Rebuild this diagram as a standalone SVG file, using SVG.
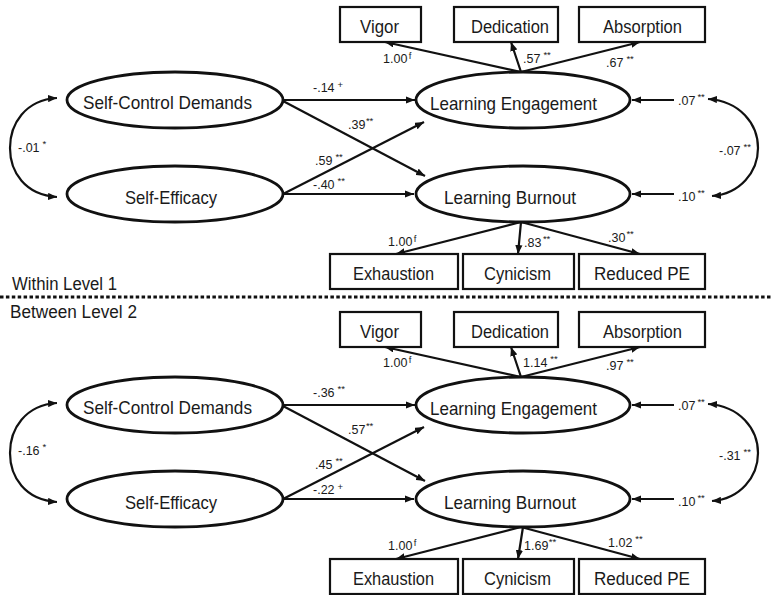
<svg xmlns="http://www.w3.org/2000/svg" width="772" height="595" viewBox="0 0 772 595">
  <defs>
    <marker id="ah" viewBox="0 0 10 8" refX="10" refY="4" markerWidth="9" markerHeight="7.5" markerUnits="userSpaceOnUse" orient="auto-start-reverse">
      <path d="M0,0 L10,4 L0,8 z" fill="#111"/>
    </marker>
    <style>
      text { font-family: "Liberation Sans", Arial, sans-serif; fill: #1a1a1a; }
      .lat { fill: #fff; stroke: #111; stroke-width: 2.8; }
      .obs { fill: #fff; stroke: #111; stroke-width: 2.2; }
      .lt { font-size: 19px; }
      .ot { font-size: 17.5px; }
      .hd { font-size: 18px; }
      .lb { font-size: 12.5px; }
      .s { font-size: 9.5px; }
      .c { fill: none; stroke: #111; stroke-width: 2.2; marker-end: url(#ah); }
      .cv { fill: none; stroke: #111; stroke-width: 2.2; marker-start: url(#ah); marker-end: url(#ah); }
      .sep { stroke: #111; stroke-width: 3; stroke-dasharray: 3.5 2.4; }
    </style>
  </defs>

  <rect width="772" height="595" fill="#fff"/>

  <!-- level headings and separator -->
  <text id="within-title" class="hd" x="12" y="290" textLength="105" lengthAdjust="spacingAndGlyphs">Within Level 1</text>
  <line class="sep" x1="0" y1="297" x2="772" y2="297"/>
  <text id="between-title" class="hd" x="10" y="318" textLength="127" lengthAdjust="spacingAndGlyphs">Between Level 2</text>

  <!-- ===== Within level ===== -->
  <g id="within">
    <g id="w-connectors">
      <path class="c" d="M283,100 H415"/>
      <path class="c" d="M283,101 L425,176"/>
      <path class="c" d="M283,194 L424,122"/>
      <path class="c" d="M283,194 H414"/>
      <path class="c" d="M521,72 L385,42"/>
      <path class="c" d="M521,72 L511,42"/>
      <path class="c" d="M521,72 L640,42"/>
      <path class="c" d="M521,222 L396,254"/>
      <path class="c" d="M521,222 L518,254"/>
      <path class="c" d="M521,222 L640,254"/>
      <path class="c" d="M674,100 H632"/>
      <path class="c" d="M674,194 H632"/>
      <path class="cv" d="M57,98 C25,100 10,124 10,148 C10,172 25,195 57,197"/>
      <path class="cv" d="M708,99 C740,101 758,124 758,148 C758,172 740,194 712,196"/>
    </g>

    <g id="w-self-control">
      <ellipse class="lat" cx="175" cy="100" rx="108" ry="28"/>
      <text class="lt" x="83" y="109" textLength="169" lengthAdjust="spacingAndGlyphs">Self-Control Demands</text>
    </g>
    <g id="w-self-efficacy">
      <ellipse class="lat" cx="175" cy="194" rx="108" ry="28"/>
      <text class="lt" x="125" y="203.5" textLength="92" lengthAdjust="spacingAndGlyphs">Self-Efficacy</text>
    </g>
    <g id="w-engagement">
      <ellipse class="lat" cx="523" cy="100" rx="107" ry="28"/>
      <text class="lt" x="430" y="110" textLength="167" lengthAdjust="spacingAndGlyphs">Learning Engagement</text>
    </g>
    <g id="w-burnout">
      <ellipse class="lat" cx="523" cy="194" rx="107" ry="28"/>
      <text class="lt" x="444" y="204" textLength="132" lengthAdjust="spacingAndGlyphs">Learning Burnout</text>
    </g>
    <g id="w-vigor">
      <rect class="obs" x="340" y="7" width="81" height="35"/>
      <text class="ot" x="360" y="33" textLength="39" lengthAdjust="spacingAndGlyphs">Vigor</text>
    </g>
    <g id="w-dedication">
      <rect class="obs" x="454" y="7" width="104" height="35"/>
      <text class="ot" x="471" y="33" textLength="78" lengthAdjust="spacingAndGlyphs">Dedication</text>
    </g>
    <g id="w-absorption">
      <rect class="obs" x="579" y="7" width="126" height="35"/>
      <text class="ot" x="603" y="33" textLength="79" lengthAdjust="spacingAndGlyphs">Absorption</text>
    </g>
    <g id="w-exhaustion">
      <rect class="obs" x="330" y="254" width="128" height="35"/>
      <text class="ot" x="353" y="280" textLength="81" lengthAdjust="spacingAndGlyphs">Exhaustion</text>
    </g>
    <g id="w-cynicism">
      <rect class="obs" x="463" y="254" width="111" height="35"/>
      <text class="ot" x="484" y="280" textLength="67" lengthAdjust="spacingAndGlyphs">Cynicism</text>
    </g>
    <g id="w-reduced-pe">
      <rect class="obs" x="579" y="254" width="126" height="35"/>
      <text class="ot" x="594" y="280" textLength="96" lengthAdjust="spacingAndGlyphs">Reduced PE</text>
    </g>

    <g id="w-labels">
      <text class="lb" x="313" y="92">-.14<tspan class="s" dx="3" dy="-4">+</tspan></text>
      <text class="lb" x="348" y="129">.39<tspan class="s" dx="0.5" dy="-5">**</tspan></text>
      <text class="lb" x="315" y="165">.59<tspan class="s" dx="3" dy="-5">**</tspan></text>
      <text class="lb" x="313" y="189">-.40<tspan class="s" dx="3" dy="-5">**</tspan></text>
      <text class="lb" x="383" y="63">1.00<tspan class="s" dx="1.5" dy="-4">f</tspan></text>
      <text class="lb" x="523" y="63">.57<tspan class="s" dx="3" dy="-5">**</tspan></text>
      <text class="lb" x="606" y="67">.67<tspan class="s" dx="3" dy="-5">**</tspan></text>
      <text class="lb" x="678" y="105">.07<tspan class="s" dx="2" dy="-5">**</tspan></text>
      <text class="lb" x="678" y="201">.10<tspan class="s" dx="2" dy="-5">**</tspan></text>
      <text class="lb" x="719" y="155">-.07<tspan class="s" dx="3" dy="-5">**</tspan></text>
      <text class="lb" x="18" y="152">-.01<tspan class="s" dx="3" dy="-5">*</tspan></text>
      <text class="lb" x="388" y="246">1.00<tspan class="s" dx="1.5" dy="-4">f</tspan></text>
      <text class="lb" x="524" y="247">.83<tspan class="s" dx="1.5" dy="-5">**</tspan></text>
      <text class="lb" x="608" y="242">.30<tspan class="s" dx="1" dy="-5">**</tspan></text>
    </g>
  </g>

  <!-- ===== Between level ===== -->
  <g id="between" transform="translate(0,305)">
    <g id="b-connectors">
      <path class="c" d="M283,100 H415"/>
      <path class="c" d="M283,101 L425,176"/>
      <path class="c" d="M283,194 L424,122"/>
      <path class="c" d="M283,194 H414"/>
      <path class="c" d="M521,72 L385,42"/>
      <path class="c" d="M521,72 L511,42"/>
      <path class="c" d="M521,72 L640,42"/>
      <path class="c" d="M521,222 L396,254"/>
      <path class="c" d="M523,222 L518,254"/>
      <path class="c" d="M521,222 L640,254"/>
      <path class="c" d="M674,100 H632"/>
      <path class="c" d="M674,194 H632"/>
      <path class="cv" d="M57,98 C25,100 10,124 10,148 C10,172 25,195 57,197"/>
      <path class="cv" d="M708,99 C740,101 758,124 758,148 C758,172 740,194 712,196"/>
    </g>

    <g id="b-self-control">
      <ellipse class="lat" cx="175" cy="100" rx="108" ry="28"/>
      <text class="lt" x="83" y="109" textLength="169" lengthAdjust="spacingAndGlyphs">Self-Control Demands</text>
    </g>
    <g id="b-self-efficacy">
      <ellipse class="lat" cx="175" cy="194" rx="108" ry="28"/>
      <text class="lt" x="125" y="203.5" textLength="92" lengthAdjust="spacingAndGlyphs">Self-Efficacy</text>
    </g>
    <g id="b-engagement">
      <ellipse class="lat" cx="523" cy="100" rx="107" ry="28"/>
      <text class="lt" x="430" y="110" textLength="167" lengthAdjust="spacingAndGlyphs">Learning Engagement</text>
    </g>
    <g id="b-burnout">
      <ellipse class="lat" cx="523" cy="194" rx="107" ry="28"/>
      <text class="lt" x="444" y="204" textLength="132" lengthAdjust="spacingAndGlyphs">Learning Burnout</text>
    </g>
    <g id="b-vigor">
      <rect class="obs" x="340" y="7" width="81" height="35"/>
      <text class="ot" x="360" y="33" textLength="39" lengthAdjust="spacingAndGlyphs">Vigor</text>
    </g>
    <g id="b-dedication">
      <rect class="obs" x="454" y="7" width="104" height="35"/>
      <text class="ot" x="471" y="33" textLength="78" lengthAdjust="spacingAndGlyphs">Dedication</text>
    </g>
    <g id="b-absorption">
      <rect class="obs" x="579" y="7" width="126" height="35"/>
      <text class="ot" x="603" y="33" textLength="79" lengthAdjust="spacingAndGlyphs">Absorption</text>
    </g>
    <g id="b-exhaustion">
      <rect class="obs" x="330" y="254" width="128" height="35"/>
      <text class="ot" x="353" y="280" textLength="81" lengthAdjust="spacingAndGlyphs">Exhaustion</text>
    </g>
    <g id="b-cynicism">
      <rect class="obs" x="463" y="254" width="111" height="35"/>
      <text class="ot" x="484" y="280" textLength="67" lengthAdjust="spacingAndGlyphs">Cynicism</text>
    </g>
    <g id="b-reduced-pe">
      <rect class="obs" x="579" y="254" width="126" height="35"/>
      <text class="ot" x="594" y="280" textLength="96" lengthAdjust="spacingAndGlyphs">Reduced PE</text>
    </g>

    <g id="b-labels">
      <text class="lb" x="313" y="92">-.36<tspan class="s" dx="3" dy="-5">**</tspan></text>
      <text class="lb" x="348" y="129">.57<tspan class="s" dx="0.5" dy="-5">**</tspan></text>
      <text class="lb" x="315" y="164">.45<tspan class="s" dx="3" dy="-5">**</tspan></text>
      <text class="lb" x="313" y="189">-.22<tspan class="s" dx="3" dy="-4">+</tspan></text>
      <text class="lb" x="383" y="62">1.00<tspan class="s" dx="1.5" dy="-4">f</tspan></text>
      <text class="lb" x="523" y="62">1.14<tspan class="s" dx="3" dy="-5">**</tspan></text>
      <text class="lb" x="606" y="65">.97<tspan class="s" dx="3" dy="-5">**</tspan></text>
      <text class="lb" x="678" y="105">.07<tspan class="s" dx="2" dy="-5">**</tspan></text>
      <text class="lb" x="678" y="201">.10<tspan class="s" dx="2" dy="-5">**</tspan></text>
      <text class="lb" x="719" y="155">-.31<tspan class="s" dx="3" dy="-5">**</tspan></text>
      <text class="lb" x="18" y="150">-.16<tspan class="s" dx="3" dy="-5">*</tspan></text>
      <text class="lb" x="388" y="245">1.00<tspan class="s" dx="1.5" dy="-4">f</tspan></text>
      <text class="lb" x="524" y="245">1.69<tspan class="s" dx="0.5" dy="-5">**</tspan></text>
      <text class="lb" x="608" y="242">1.02<tspan class="s" dx="3" dy="-5">**</tspan></text>
    </g>
  </g>
</svg>
